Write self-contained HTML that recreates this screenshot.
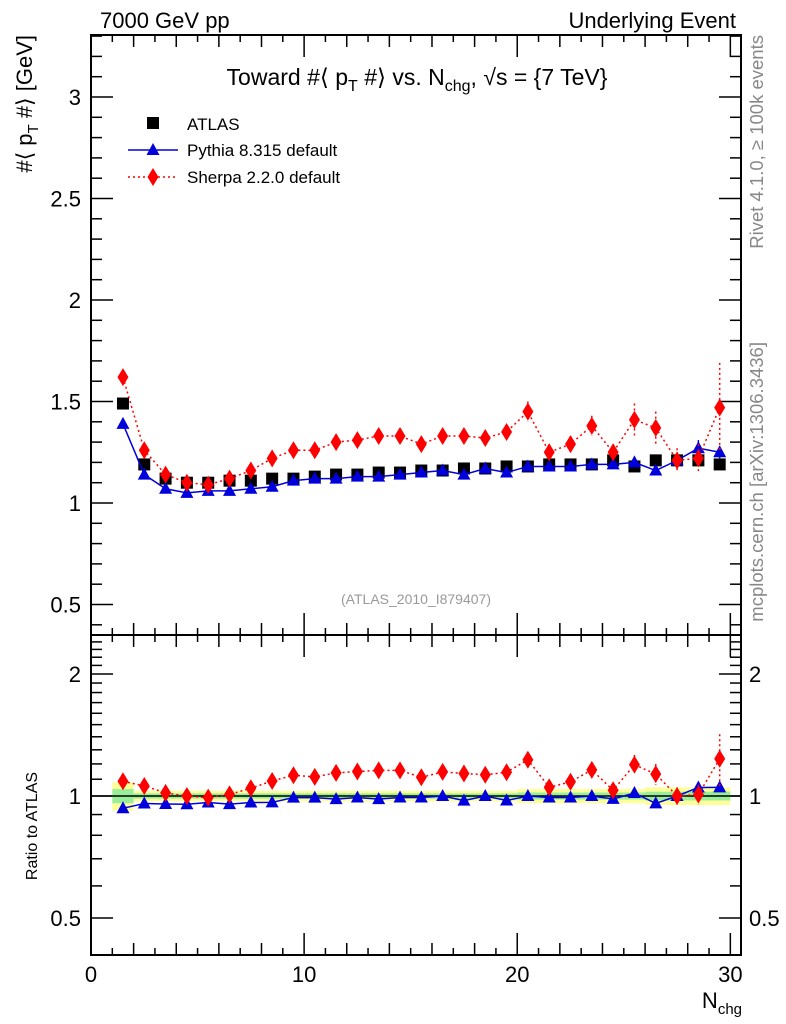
<!DOCTYPE html>
<html><head><meta charset="utf-8"><style>
body{margin:0;background:#fff}
svg{display:block;font-family:"Liberation Sans",sans-serif}
</style></head><body>
<svg id="c" width="786" height="1024" xmlns="http://www.w3.org/2000/svg"></svg>
<script>
const xs=[1.5,2.5,3.5,4.5,5.5,6.5,7.5,8.5,9.5,10.5,11.5,12.5,13.5,14.5,15.5,16.5,17.5,18.5,19.5,20.5,21.5,22.5,23.5,24.5,25.5,26.5,27.5,28.5,29.5];
const atlas=[1.49,1.19,1.12,1.10,1.10,1.11,1.11,1.12,1.12,1.13,1.14,1.14,1.15,1.15,1.16,1.16,1.17,1.17,1.18,1.18,1.19,1.19,1.19,1.21,1.18,1.21,1.21,1.21,1.19];
const pythia=[1.39,1.14,1.07,1.05,1.06,1.06,1.07,1.08,1.11,1.12,1.12,1.13,1.13,1.14,1.15,1.16,1.14,1.17,1.15,1.18,1.18,1.18,1.19,1.19,1.20,1.16,1.21,1.27,1.25];
const sherpa=[1.62,1.26,1.14,1.10,1.09,1.12,1.16,1.22,1.26,1.26,1.30,1.31,1.33,1.33,1.29,1.33,1.33,1.32,1.35,1.45,1.25,1.29,1.38,1.25,1.41,1.37,1.21,1.22,1.47];
const sherpaErr=[0.01,0.01,0.01,0.01,0.01,0.01,0.01,0.01,0.01,0.01,0.01,0.01,0.01,0.01,0.02,0.02,0.02,0.02,0.03,0.05,0.04,0.04,0.05,0.04,0.08,0.08,0.06,0.07,0.22];
const pythiaErr=[0.01,0.01,0.01,0.01,0.01,0.01,0.01,0.01,0.01,0.01,0.01,0.01,0.01,0.01,0.01,0.01,0.01,0.01,0.01,0.01,0.01,0.01,0.01,0.01,0.01,0.01,0.01,0.04,0.03];
const bandOuter=[0.08,0.03,0.03,0.03,0.03,0.03,0.03,0.03,0.03,0.03,0.03,0.03,0.03,0.03,0.03,0.03,0.03,0.03,0.03,0.04,0.04,0.04,0.04,0.04,0.04,0.05,0.05,0.05,0.05];
const bandInner=[0.04,0.015,0.015,0.015,0.015,0.015,0.015,0.015,0.015,0.015,0.015,0.015,0.015,0.015,0.015,0.015,0.015,0.015,0.015,0.02,0.02,0.02,0.02,0.02,0.02,0.025,0.025,0.025,0.025];
const xTicks=[0,10,20,30];
const yTicks=[0.5,1,1.5,2,2.5,3];
const rTicks=[0.5,1,2];

const svg=document.getElementById('c');
const NS='http://www.w3.org/2000/svg';
function el(t,a,p){const e=document.createElementNS(NS,t);for(const k in a)e.setAttribute(k,a[k]);(p||svg).appendChild(e);return e;}
const L=91,R=741,T1=35,B1=635,B2=955;
const X=v=>L+v*(R-L)/30.5;
const Y=v=>503-(v-1)*203;
const YR=v=>796-Math.log2(v)*122;

let f1=el('rect',{x:L,y:T1,width:R-L,height:B1-T1,fill:'none',stroke:'#000','stroke-width':2});

let f2=el('rect',{x:L,y:B1,width:R-L,height:B2-B1,fill:'none',stroke:'#000','stroke-width':2});


for(let v=0;v<=30;v++){const major=v%10==0;const len=major?22:(v%2==0?12:7);
 for(const [b,t] of [[B1,T1],[B2,B1]]){
  el('line',{x1:X(v),x2:X(v),y1:b,y2:b-len,stroke:'#000','stroke-width':1.5});
  el('line',{x1:X(v),x2:X(v),y1:t,y2:t+len,stroke:'#000','stroke-width':1.5});}}
xTicks.forEach(v=>{const t=el('text',{x:X(v),y:982,'text-anchor':'middle','font-size':22});t.textContent=v;
 });
for(let i=0;i<=30;i++){const v=0.4+i*0.1;const y=Y(v);if(y<T1||y>B1)continue;const major=Math.abs(v*2-Math.round(v*2))<1e-6;const len=major?22:11;
 el('line',{x1:L,x2:L+len,y1:y,y2:y,stroke:'#000','stroke-width':1.5});
 el('line',{x1:R,x2:R-len,y1:y,y2:y,stroke:'#000','stroke-width':1.5});}
yTicks.forEach(v=>{const t=el('text',{x:L-10,y:Y(v)+8,'text-anchor':'end','font-size':22});t.textContent=v;
 });
for(let i=0;i<=22;i++){const v=0.4+i*0.1;const y=YR(v);if(y<B1||y>B2)continue;const major=[0.5,1,2].some(m=>Math.abs(m-v)<1e-6);const len=major?22:11;
 el('line',{x1:L,x2:L+len,y1:y,y2:y,stroke:'#000','stroke-width':1.5});
 el('line',{x1:R,x2:R-len,y1:y,y2:y,stroke:'#000','stroke-width':1.5});}
rTicks.forEach(v=>{const t=el('text',{x:L-10,y:YR(v)+8,'text-anchor':'end','font-size':22});t.textContent=v;
 
 const t2=el('text',{x:R+8,y:YR(v)+8,'font-size':22});t2.textContent=v;
 });

xs.forEach((x,i)=>{
 let a=el('rect',{x:X(x-0.5),width:X(1)-X(0),y:YR(1+bandOuter[i]),height:YR(1-bandOuter[i])-YR(1+bandOuter[i]),fill:'#ffff99'});
 
 let b=el('rect',{x:X(x-0.5),width:X(1)-X(0),y:YR(1+bandInner[i]),height:YR(1-bandInner[i])-YR(1+bandInner[i]),fill:'#99ee99'});
 });
el('line',{x1:L,x2:R,y1:YR(1),y2:YR(1),stroke:'#000','stroke-width':1.5});

function series(vals,err,Yf,color,dash,marker,name){
 const pts=xs.map((x,i)=>X(x)+','+Yf(vals[i])).join(' ');
 const pl=el('polyline',{points:pts,fill:'none',stroke:color,'stroke-width':1.5,'stroke-dasharray':dash});
 
 xs.forEach((x,i)=>{const cx=X(x),cy=Yf(vals[i]);
  if(err){const e=el('line',{x1:cx,x2:cx,y1:Yf(vals[i]+err[i]),y2:Yf(Math.max(vals[i]-err[i],0.01)),stroke:color,'stroke-width':1.5,'stroke-dasharray':dash});
   }
  let m;
  if(marker=='tri')m=el('polygon',{points:`${cx},${cy-7} ${cx-6.5},${cy+5} ${cx+6.5},${cy+5}`,fill:color});
  else m=el('polygon',{points:`${cx},${cy-9} ${cx-5.5},${cy} ${cx},${cy+9} ${cx+5.5},${cy}`,fill:color});
  });
}
xs.forEach((x,i)=>{const m=el('rect',{x:X(x)-6,y:Y(atlas[i])-6,width:12,height:12,fill:'#000'});
 });
series(pythia,pythiaErr,Y,'#0000dd','','tri','pythia');
series(sherpa,sherpaErr,Y,'#ff0000','2,3','dia','sherpa');
const pr=pythia.map((v,i)=>v/atlas[i]), sr=sherpa.map((v,i)=>v/atlas[i]);
const pre=pythiaErr.map((v,i)=>v/atlas[i]), sre=sherpaErr.map((v,i)=>v/atlas[i]);
series(pr,pre,YR,'#0000dd','','tri','pythia-ratio');
series(sr,sre,YR,'#ff0000','2,3','dia','sherpa-ratio');

let lg=el('g',{});
el('rect',{x:147,y:117,width:12,height:12,fill:'#000'},lg);
let t=el('text',{x:187,y:130,'font-size':17},lg);t.textContent='ATLAS';
el('line',{x1:128,x2:178,y1:150,y2:150,stroke:'#0000dd','stroke-width':1.5},lg);
el('polygon',{points:'153,143 146.5,155 159.5,155',fill:'#0000dd'},lg);
t=el('text',{x:187,y:156,'font-size':17},lg);t.textContent='Pythia 8.315 default';
el('line',{x1:128,x2:178,y1:177,y2:177,stroke:'#ff0000','stroke-width':1.5,'stroke-dasharray':'2,3'},lg);
el('polygon',{points:'153,168 147.5,177 153,186 158.5,177',fill:'#ff0000'},lg);
t=el('text',{x:187,y:183,'font-size':17},lg);t.textContent='Sherpa 2.2.0 default';

function txt(x,y,s,attrs,name){const e=el('text',Object.assign({x:x,y:y},attrs));e.innerHTML=s;return e;}
txt(100,28,'7000 GeV pp',{'font-size':22},'header-left');
txt(736,28,'Underlying Event',{'font-size':22,'text-anchor':'end'},'header-right');
txt(417,85,'Toward #⟨ p<tspan font-size="16" dy="6">T</tspan><tspan dy="-6"> #⟩ vs. N</tspan><tspan font-size="16" dy="6">chg</tspan><tspan dy="-6">, √s = {7 TeV}</tspan>',{'font-size':23,'text-anchor':'middle'},'plot-title');
txt(416,604,'(ATLAS_2010_I879407)',{'font-size':14,'text-anchor':'middle',fill:'#999'},'analysis-id');
txt(0,0,'#⟨ p<tspan font-size="15" dy="6">T</tspan><tspan dy="-6"> #⟩ [GeV]</tspan>',{'font-size':22,'text-anchor':'end',transform:'translate(32,35) rotate(-90)'},'y-axis-title');
txt(0,0,'Ratio to ATLAS',{'font-size':16,'text-anchor':'middle',transform:'translate(37,826) rotate(-90)'},'ratio-axis-title');
txt(742,1008,'N<tspan font-size="15" dy="6">chg</tspan>',{'font-size':22,'text-anchor':'end'},'x-axis-title');
txt(0,0,'Rivet 4.1.0, ≥ 100k events',{'font-size':18.5,'fill':'#888','text-anchor':'end',transform:'translate(763,35) rotate(-90)'},'rivet-label');
txt(0,0,'mcplots.cern.ch [arXiv:1306.3436]',{'font-size':18.5,'fill':'#888','text-anchor':'end',transform:'translate(763,342) rotate(-90)'},'mcplots-label');
</script>
</body></html>
